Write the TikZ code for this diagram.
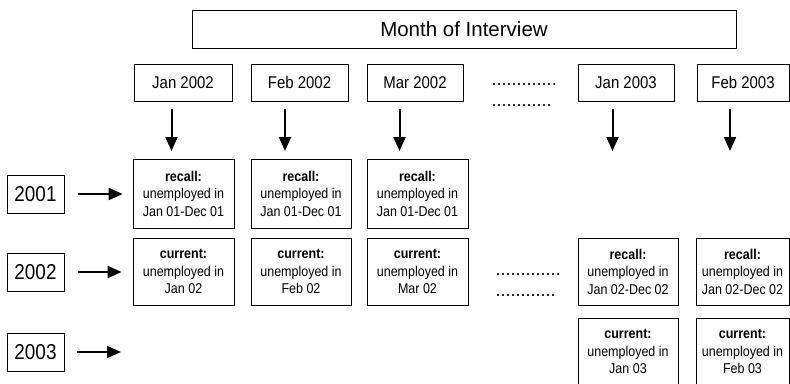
\documentclass[tikz,border=0pt]{standalone}
\usepackage{fontspec}
\setmainfont{Liberation Sans}
\newfontfamily\narrowfont{Liberation Sans}[FakeStretch=0.88]
\usetikzlibrary{arrows.meta}
\begin{document}
\begin{tikzpicture}[x=1pt,y=-1pt,
 box/.style={draw, line width=0.8pt, inner sep=0pt, align=center},
 mbox/.style={box, minimum height=37pt, font=\narrowfont\fontsize{17}{20}\selectfont},
 cell/.style={box, font=\narrowfont\fontsize{14.2}{17.5}\selectfont},
 ybox/.style={box, minimum width=57pt, minimum height=38pt, font=\narrowfont\fontsize{21.5}{24}\selectfont},
 arr/.style={line width=2pt, -{Triangle[length=14pt,width=12pt]}},
 dotrow/.style={inner sep=0pt, anchor=base west, font=\fontsize{18}{18}\selectfont}]
\clip (0,0) rectangle (790,383);
% title
\node[box, minimum width=544pt, minimum height=38pt, font=\fontsize{20.5}{24}\selectfont] (title) at (464,29) {Month of Interview};
% months
\node[mbox, minimum width=98pt] (m1) at (183,82.5) {Jan 2002};
\node[mbox, minimum width=97pt] (m2) at (299.5,82.5) {Feb 2002};
\node[mbox, minimum width=96pt] (m3) at (415,82.5) {Mar 2002};
\node[mbox, minimum width=96pt] (m4) at (626,82.5) {Jan 2003};
\node[mbox, minimum width=92pt] (m5) at (743,82.5) {Feb 2003};
\node[dotrow] (d1) at (491.5,85.5) {.............};
\node[dotrow] (d2) at (491.5,106.5) {............};
% years
\node[ybox] (y1) at (35.5,194) {2001};
\node[ybox] (y2) at (35.5,272) {2002};
\node[ybox] (y3) at (35.5,352) {2003};
% row 1
\node[cell, minimum width=101pt, minimum height=69pt] (r1a) at (183.5,193.5) {\textbf{recall:}\\unemployed in\\Jan 01-Dec 01};
\node[cell, minimum width=100pt, minimum height=69pt] (r1b) at (301,193.5) {\textbf{recall:}\\unemployed in\\Jan 01-Dec 01};
\node[cell, minimum width=101pt, minimum height=69pt] (r1c) at (417.5,193.5) {\textbf{recall:}\\unemployed in\\Jan 01-Dec 01};
% row 2
\node[cell, minimum width=101pt, minimum height=67pt] (r2a) at (183.5,271.5) {\textbf{current:}\\unemployed in\\Jan 02};
\node[cell, minimum width=100pt, minimum height=67pt] (r2b) at (301,271.5) {\textbf{current:}\\unemployed in\\Feb 02};
\node[cell, minimum width=101pt, minimum height=67pt] (r2c) at (417.5,271.5) {\textbf{current:}\\unemployed in\\Mar 02};
\node[dotrow] (d3) at (495.5,275.5) {.............};
\node[dotrow] (d4) at (495.5,296) {............};
\node[cell, minimum width=100pt, minimum height=67pt] (r2d) at (628,271.5) {\textbf{recall:}\\unemployed in\\Jan 02-Dec 02};
\node[cell, minimum width=93pt, minimum height=67pt] (r2e) at (742.5,271.5) {\textbf{recall:}\\unemployed in\\Jan 02-Dec 02};
% row 3
\node[cell, minimum width=100pt, minimum height=67pt] (r3d) at (628,351.5) {\textbf{current:}\\unemployed in\\Jan 03};
\node[cell, minimum width=93pt, minimum height=67pt] (r3e) at (742.5,351.5) {\textbf{current:}\\unemployed in\\Feb 03};
% down arrows
\foreach \n/\x in {1/171.5, 2/285, 3/399.5, 4/612.5, 5/730} {
  \coordinate (s\n) at (\x,109);
  \coordinate (t\n) at (\x,151);
  \draw[arr] (s\n) -- (t\n);
}
% horizontal arrows
\draw[arr, shorten <=14pt, shorten >=10pt] (y1.east) -- (y1.east -| r1a.west);
\draw[arr, shorten <=14pt, shorten >=11pt] (y2.east) -- (y2.east -| r2a.west);
\coordinate (e3) at (121,352);
\draw[arr, shorten <=13pt] (y3.east) -- (e3);
\end{tikzpicture}
\end{document}
